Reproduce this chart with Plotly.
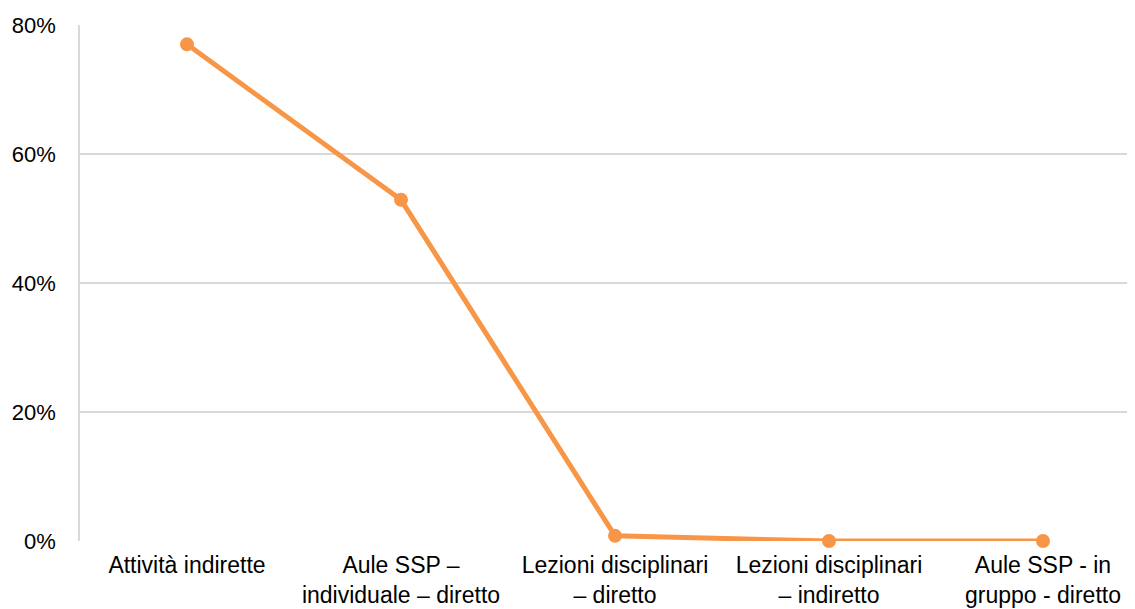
import plotly.graph_objects as go

categories = [
    "Attività indirette",
    "Aule SSP –<br>individuale – diretto",
    "Lezioni disciplinari<br>– diretto",
    "Lezioni disciplinari<br>– indiretto",
    "Aule SSP - in<br>gruppo - diretto",
]
values = [77.0, 52.9, 0.8, 0.0, 0.0]
y_ticks = [0, 20, 40, 60, 80]
y_tick_labels = ["0%", "20%", "40%", "60%", "80%"]

fig = go.Figure()
fig.add_trace(go.Scatter(
    x=categories, y=values, mode="lines+markers",
    line=dict(color="#F79646", width=5),
    marker=dict(color="#F79646", size=14),
    showlegend=False, cliponaxis=False,
))

fig.update_layout(
    width=1127, height=601,
    margin=dict(l=72, r=0, t=17, b=68),
    paper_bgcolor="white", plot_bgcolor="white",
    font=dict(family="Liberation Sans, Arial, sans-serif", size=23, color="#000000"),
)
fig.update_xaxes(
    type="category", range=[-0.5, 4.43],
    showgrid=False, zeroline=False, showline=False,
    ticks="outside", ticklen=3, tickcolor="rgba(0,0,0,0)",
    tickfont=dict(size=23), automargin=False,
)
fig.update_yaxes(
    range=[0, 80], tickvals=y_ticks, ticktext=y_tick_labels,
    showgrid=True, gridcolor="#D9D9D9", gridwidth=1.5,
    zeroline=False, showline=True, linecolor="#D9D9D9", linewidth=1.5,
    ticks="outside", ticklen=18, tickcolor="rgba(0,0,0,0)",
    tickfont=dict(size=22), automargin=False,
)

fig.write_html("out.html")
